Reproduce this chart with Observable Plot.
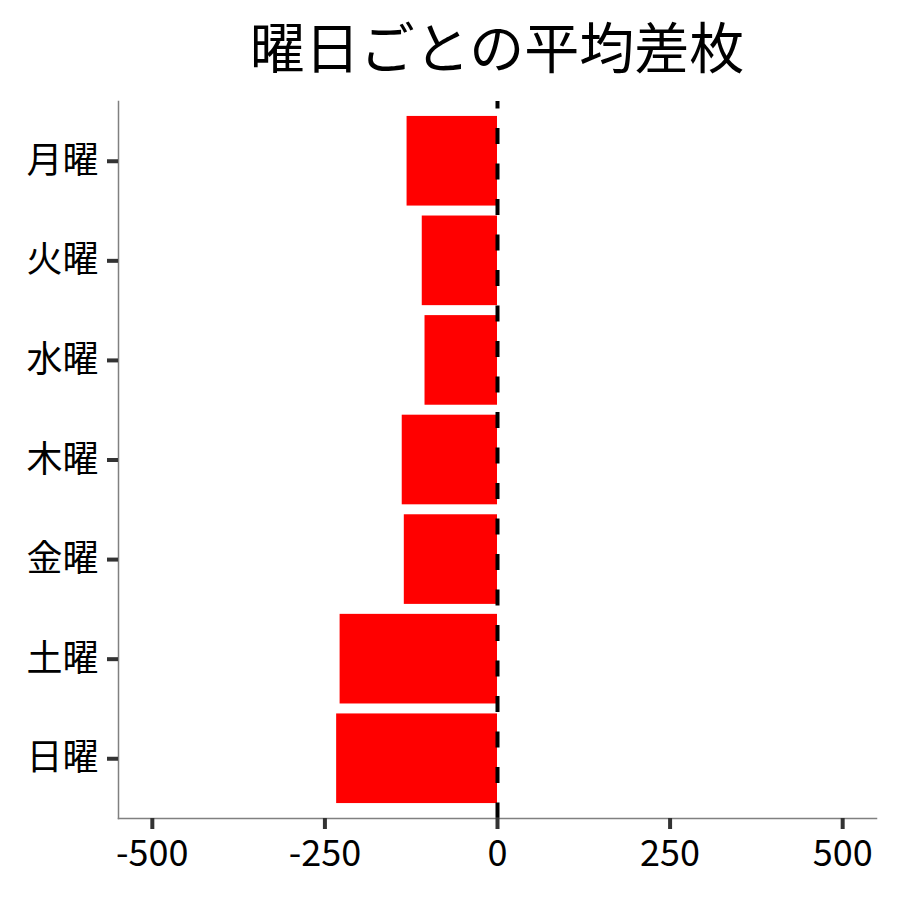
<!DOCTYPE html>
<html><head><meta charset="utf-8">
<script src="https://cdn.jsdelivr.net/npm/d3@7"></script>
<script src="https://cdn.jsdelivr.net/npm/@observablehq/plot@0.6"></script>
<style>
body{margin:0;background:#fff;font-family:"Noto Sans CJK JP",sans-serif;}
#title{height:90px;line-height:88px;font-size:55px;text-align:center;padding-left:94px;width:806px;color:#000;white-space:nowrap;}
</style></head><body>
<div id="title">曜日ごとの平均差枚</div>
<div id="chart"></div>
<script>
const days = ["月曜","火曜","水曜","木曜","金曜","土曜","日曜"];
const values = [-131, -109, -105, -138, -135, -228, -233];
const xTicks = [-500, -250, 0, 250, 500];
const data = days.map((d, i) => ({day: d, value: values[i]}));
const chart = Plot.plot({
  width: 900, height: 810,
  marginTop: 11, marginBottom: 82, marginLeft: 118, marginRight: 24,
  style: {fontFamily: '"Noto Sans CJK JP", sans-serif', fontSize: "36px", color: "#000", background: "#fff"},
  x: {domain: [-549, 549], label: null},
  y: {domain: days, paddingInner: 0.1, paddingOuter: 0.15, round: false, label: null},
  marks: [
    Plot.barX(data, {x: "value", y: "day", fill: "#ff0000"}),
    Plot.ruleX([0], {stroke: "#000", strokeWidth: 4, strokeDasharray: "16,19.5", strokeDashoffset: 8.5}),
    Plot.frame({anchor: "left", stroke: "#808080", strokeWidth: 1.5}),
    Plot.frame({anchor: "bottom", stroke: "#808080", strokeWidth: 1.5}),
    Plot.axisX({ticks: xTicks, tickSize: 11, tickPadding: 11, stroke: "#333", strokeWidth: 4, fill: "#000", label: null, tickFormat: d => String(d)}),
    Plot.axisY({tickSize: 11, tickPadding: 9, stroke: "#333", strokeWidth: 4, fill: "#000", label: null})
  ]
});
document.getElementById("chart").appendChild(chart);
</script>
</body></html>
